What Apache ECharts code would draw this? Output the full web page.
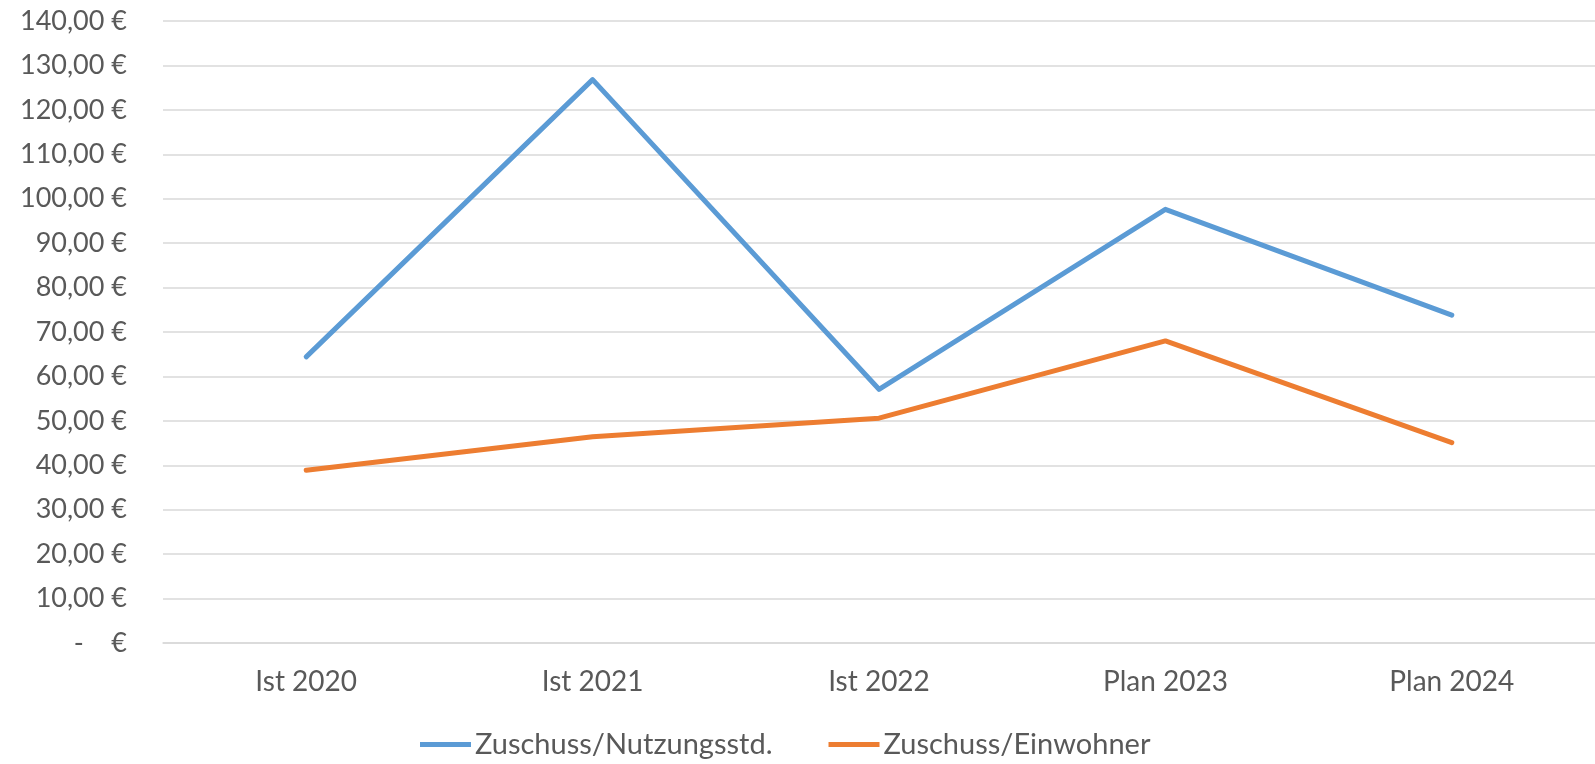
<!DOCTYPE html>
<html>
<head>
<meta charset="utf-8">
<script src="https://cdn.jsdelivr.net/npm/echarts@6/dist/echarts.min.js"></script>
<style>html,body{margin:0;padding:0;background:#fff;}#c{width:1595px;height:764px;}</style>
</head>
<body>
<div id="c"></div>
<script>
const categories = ["Ist 2020", "Ist 2021", "Ist 2022", "Plan 2023", "Plan 2024"];
const seriesNames = ["Zuschuss/Nutzungsstd.", "Zuschuss/Einwohner"];
const nutzungsstd = [64.4, 126.8, 57.1, 97.6, 73.8];
const einwohner = [38.9, 46.4, 50.6, 68.0, 45.1];
const yMin = 0, yMax = 140, yStep = 10;

const FONT = 'Lato';
const TXT = '#595959';
const chart = echarts.init(document.getElementById('c'), null, {renderer: 'canvas'});
chart.setOption({
  animation: false,
  backgroundColor: '#ffffff',
  grid: {left: 163, right: -12, top: 21, bottom: 121, containLabel: false},
  legend: {
    bottom: 0,
    left: 415,
    icon: 'rect',
    itemWidth: 51,
    itemHeight: 5,
    itemGap: 56,
    textStyle: {fontFamily: FONT, fontSize: 29, color: TXT, padding: [0, 0, 0, -1]},
    data: seriesNames
  },
  xAxis: {
    type: 'category',
    data: categories,
    boundaryGap: true,
    axisLine: {show: true, lineStyle: {color: '#d9d9d9', width: 1.5}},
    axisTick: {show: false},
    axisLabel: {fontFamily: FONT, fontSize: 28, color: TXT, margin: 25}
  },
  yAxis: {
    type: 'value',
    min: yMin, max: yMax, interval: yStep,
    axisLine: {show: false},
    axisTick: {show: false},
    splitLine: {lineStyle: {color: '#d9d9d9', width: 1.5}},
    axisLabel: {
      fontFamily: FONT, fontSize: 27, color: TXT, margin: 36,
      formatter: v => v === 0 ? '-    €' : v.toFixed(2).replace('.', ',') + ' €'
    }
  },
  series: [
    {name: seriesNames[0], type: 'line', data: nutzungsstd, showSymbol: false, symbol: 'none',
     lineStyle: {color: '#5B9BD5', width: 5, cap: 'round', join: 'round'}, itemStyle: {color: '#5B9BD5'}},
    {name: seriesNames[1], type: 'line', data: einwohner, showSymbol: false, symbol: 'none',
     lineStyle: {color: '#ED7D31', width: 5, cap: 'round', join: 'round'}, itemStyle: {color: '#ED7D31'}}
  ]
});
</script>
</body>
</html>
